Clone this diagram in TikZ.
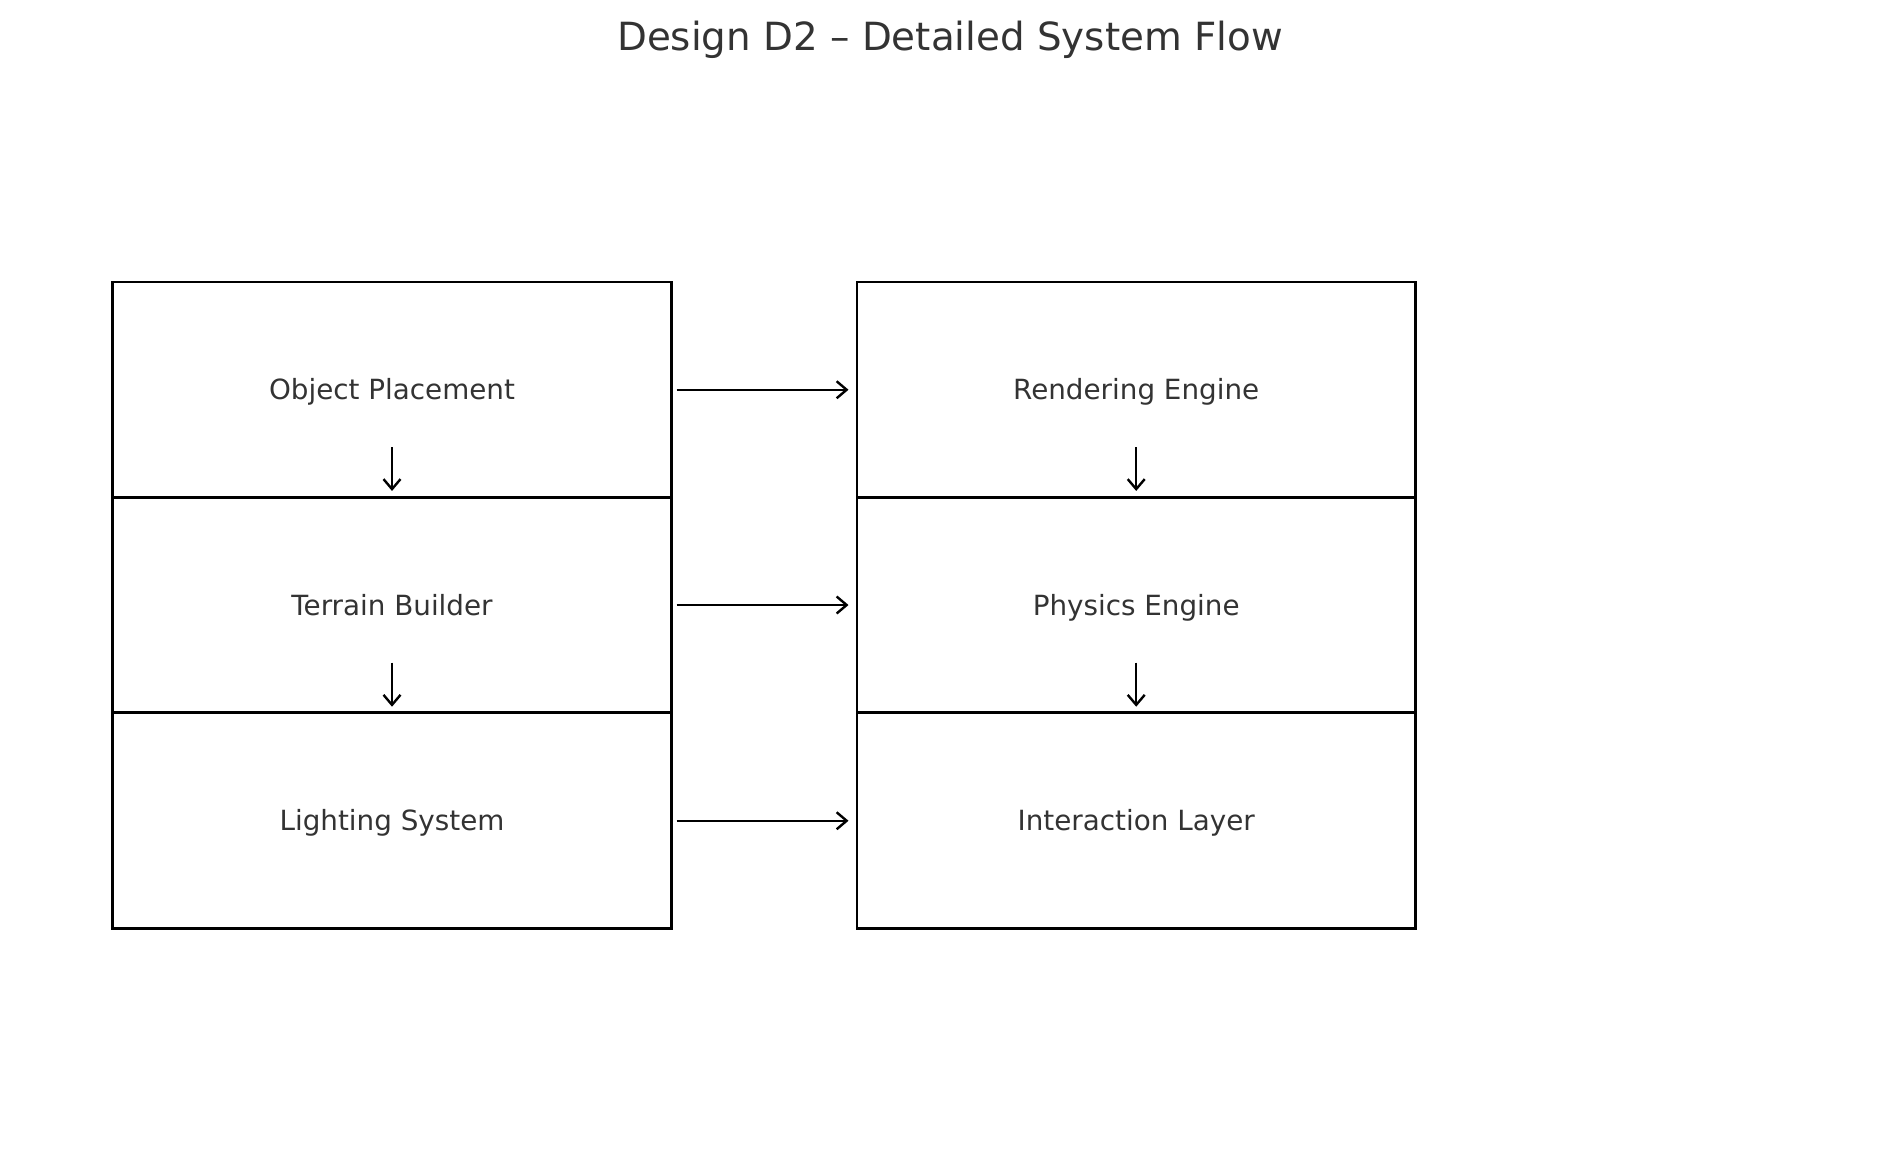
\documentclass[tikz,border=0pt]{standalone}
\usepackage{fontspec}
\setmainfont{DejaVu Sans}
\usetikzlibrary{arrows.meta,calc}
\definecolor{txt}{HTML}{333333}
\tikzset{
  stage/.style={draw=black, line width=1.3pt, minimum width=279.4pt, minimum height=107.75pt,
    inner sep=0pt, text height=10pt, text depth=0pt, text=txt, font=\fontsize{13.9}{16}\selectfont},
  flow/.style={-{Straight Barb[length=5pt,width=8.5pt,line width=1.2pt]}, line width=1.2pt, black},
  lbl/.style={text=txt, font=\fontsize{19.4}{23}\selectfont}
}
\begin{document}
\begin{tikzpicture}[x=0.5pt,y=-0.5pt]
\useasboundingbox (0,0) rectangle (1900,1164);
\node[lbl] (title) at (950,40) {Design D2 – Detailed System Flow};
\node[stage] (op) at (392,389.75) {Object Placement};
\node[stage] (tb) at (392,605) {Terrain Builder};
\node[stage] (ls) at (392,820.75) {Lighting System};
\node[stage] (re) at (1136.2,389.75) {Rendering Engine};
\node[stage] (pe) at (1136.2,605) {Physics Engine};
\node[stage] (il) at (1136.2,820.75) {Interaction Layer};
\foreach \a/\b in {op/re,tb/pe,ls/il}{
  \draw[flow, shorten <=2pt, shorten >=3.5pt] (\a.east) -- (\b.west);
}
\foreach \a/\b in {op/tb,tb/ls,re/pe,pe/il}{
  \draw[flow, shorten >=2.5pt] ($(\a.center)+(0,57.5)$) -- (\b.north);
}
\end{tikzpicture}
\end{document}
